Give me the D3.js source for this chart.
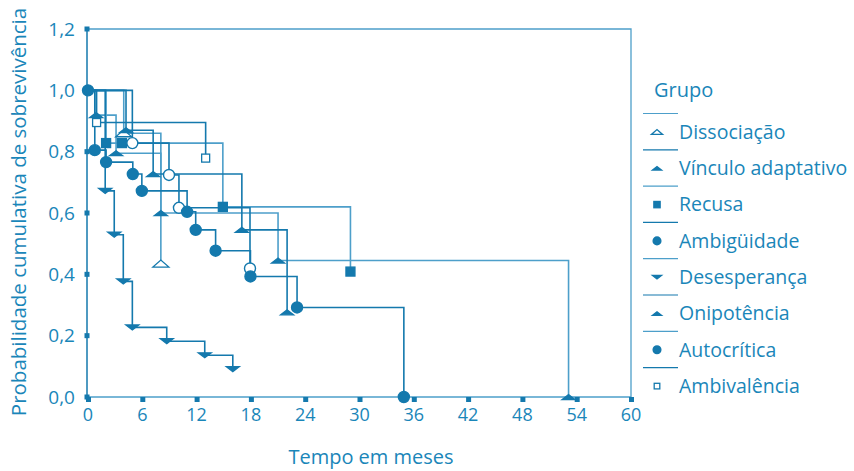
<!DOCTYPE html>
<html>
<head>
<meta charset="utf-8">
<script src="https://cdn.jsdelivr.net/npm/d3@7"></script>
<style>
  body { margin: 0; background: #fff; }
  text { font-family: "Open Sans", "Noto Sans", sans-serif; fill: #1a86b9; }
</style>
</head>
<body>
<div id="chart"></div>
<script>
const width = 854;
const height = 471;

// [tempo em meses, probabilidade]
const dissociacao = [[0, 1], [3.95, 0.86], [8.05, 0.435]];
const vinculoAdaptativo = [[0, 1], [0.9, 0.919], [3.1, 0.795], [8.05, 0.6], [21, 0.445], [53.1, 0]];
const recusa = [[0, 1], [2, 0.828], [3.75, 0.828], [14.9, 0.62], [29, 0.409]];
const ambiguidade = [[0, 1], [4.9, 0.828], [8.95, 0.724], [10.05, 0.617], [17.9, 0.419]];
const desesperanca = [[0, 1], [1.9, 0.672], [2.9, 0.529], [3.9, 0.377], [4.9, 0.227], [8.7, 0.182], [12.9, 0.136], [16, 0.091]];
const onipotencia = [[0, 1], [4.2, 0.87], [7.2, 0.727], [17, 0.545], [22, 0.276]];
const autocritica = [[0, 1], [0.75, 0.805], [2, 0.766], [4.95, 0.727], [5.95, 0.672], [10.95, 0.604], [11.9, 0.545], [14.1, 0.477], [17.95, 0.393], [23.1, 0.292], [34.9, 0]];
const ambivalencia = [[0, 1], [0.95, 0.895], [13, 0.779]];

const groupNames = ["Dissociação", "Vínculo adaptativo", "Recusa", "Ambigüidade", "Desesperança", "Onipotência", "Autocrítica", "Ambivalência"];
const xTicks = d3.range(0, 61, 6);
const yTicks = [0, 0.2, 0.4, 0.6, 0.8, 1.0, 1.2];

const blue = "#1479ad";
const light = "#4d9fca";

const series = [
  { name: "Dissociação", data: dissociacao, shape: "triangle", open: true, color: light },
  { name: "Vínculo adaptativo", data: vinculoAdaptativo, shape: "triangle", color: light },
  { name: "Recusa", data: recusa, shape: "square", color: light },
  { name: "Ambigüidade", data: ambiguidade, shape: "circle", open: true, color: blue },
  { name: "Desesperança", data: desesperanca, shape: "down", color: blue },
  { name: "Onipotência", data: onipotencia, shape: "triangle", color: blue },
  { name: "Autocrítica", data: autocritica, shape: "circle", start: true, color: blue },
  { name: "Ambivalência", data: ambivalencia, shape: "square", open: true, color: blue },
];

const svg = d3.select("#chart").append("svg")
  .attr("width", width)
  .attr("height", height);

const x = d3.scaleLinear().domain([0, 60]).range([88, 631]);
const y = d3.scaleLinear().domain([0, 1.2]).range([397, 29]);

// frame
svg.append("path")
  .attr("d", `M${x(0)},${y(1.2)}H${x(60)}V${y(0)}`)
  .attr("fill", "none")
  .attr("stroke", light)
  .attr("stroke-width", 1.3);

// axes
const xAxis = svg.append("g").attr("transform", `translate(0,${y(0)})`);
xAxis.append("line").attr("x1", x(0) - 1).attr("x2", x(60))
  .attr("stroke", light).attr("stroke-width", 1.5);
xAxis.selectAll(".tick").data(xTicks).enter().append("g")
  .attr("transform", (d) => `translate(${x(d)},0)`)
  .call((g) => {
    g.append("rect").attr("x", -2).attr("y", 0).attr("width", 5).attr("height", 5).attr("fill", blue);
    g.append("text").attr("y", 24).attr("text-anchor", "middle")
      .style("font-size", "18px").text((d) => d);
  });

const yAxis = svg.append("g").attr("transform", `translate(${x(0) - 1},0)`);
yAxis.append("line").attr("y1", y(1.2)).attr("y2", y(0) + 1)
  .attr("stroke", blue).attr("stroke-width", 1.5);
yAxis.selectAll(".tick").data(yTicks).enter().append("g")
  .attr("transform", (d) => `translate(0,${y(d)})`)
  .call((g) => {
    g.append("rect").attr("x", -2.5).attr("y", -2.5).attr("width", 5).attr("height", 5).attr("fill", blue);
    g.append("text").attr("x", -12).attr("dy", "0.35em").attr("text-anchor", "end")
      .style("font-size", "19px").text((d) => d3.format(".1f")(d).replace(".", ","));
  });

// axis titles
svg.append("text")
  .attr("x", 371).attr("y", 464)
  .attr("text-anchor", "middle")
  .style("font-size", "20px")
  .text("Tempo em meses");

svg.append("text")
  .attr("transform", "rotate(-90)")
  .attr("x", -212).attr("y", 26)
  .attr("text-anchor", "middle")
  .style("font-size", "20.5px")
  .text("Probabilidade cumulativa de sobrevivência");

// survival curves
const line = d3.line()
  .x((d) => x(d[0]))
  .y((d) => y(d[1]))
  .curve(d3.curveStepAfter);

function drawMarker(g, s, cx, cy, scale) {
  const k = scale || 1;
  const fill = s.open ? "#fff" : blue;
  if (s.shape === "circle") {
    g.append("circle").attr("cx", cx).attr("cy", cy).attr("r", 5.5 * k)
      .attr("fill", fill).attr("stroke", blue).attr("stroke-width", 1.4);
  } else if (s.shape === "square") {
    const w = (s.open ? 8 : 9) * k;
    g.append("rect").attr("x", cx - w / 2).attr("y", cy - w / 2).attr("width", w).attr("height", w)
      .attr("fill", fill).attr("stroke", blue).attr("stroke-width", 1.3);
  } else {
    const w = (s.open ? 8 : 6.5) * k;
    const h = (s.open ? 7 : 5) * k;
    const dir = s.shape === "down" ? -1 : 1;
    g.append("path")
      .attr("d", `M${cx - w},${cy + (dir * h) / 2}L${cx + w},${cy + (dir * h) / 2}L${cx},${cy - (dir * h) / 2}Z`)
      .attr("fill", fill).attr("stroke", blue).attr("stroke-width", 1.3);
  }
}

const curves = svg.append("g");
series.forEach((s) => {
  curves.append("path")
    .attr("d", line(s.data))
    .attr("fill", "none")
    .attr("stroke", s.color)
    .attr("stroke-width", 1.6);
});

series.forEach((s) => {
  const g = svg.append("g");
  s.data.forEach((d, i) => {
    if (i === 0 && !s.start) return;
    drawMarker(g, s, x(d[0]), y(d[1]));
  });
});

// legend
const legend = svg.append("g");
legend.append("text").attr("x", 654).attr("y", 97)
  .style("font-size", "20px").text("Grupo");

groupNames.forEach((name, i) => {
  const s = series.find((d) => d.name === name);
  const cy = 132 + i * 36.3;
  legend.append("line")
    .attr("x1", 643).attr("x2", 678)
    .attr("y1", cy - 18.5).attr("y2", cy - 18.5)
    .attr("stroke", i % 2 ? blue : light).attr("stroke-width", 1.2);
  drawMarker(legend, Object.assign({}, s, { open: s.name === "Ambigüidade" ? false : s.open }), 657, cy, 0.7);
  legend.append("text").attr("x", 679).attr("y", cy).attr("dy", "0.35em")
    .style("font-size", "19.5px").text(name);
});
</script>
</body>
</html>
